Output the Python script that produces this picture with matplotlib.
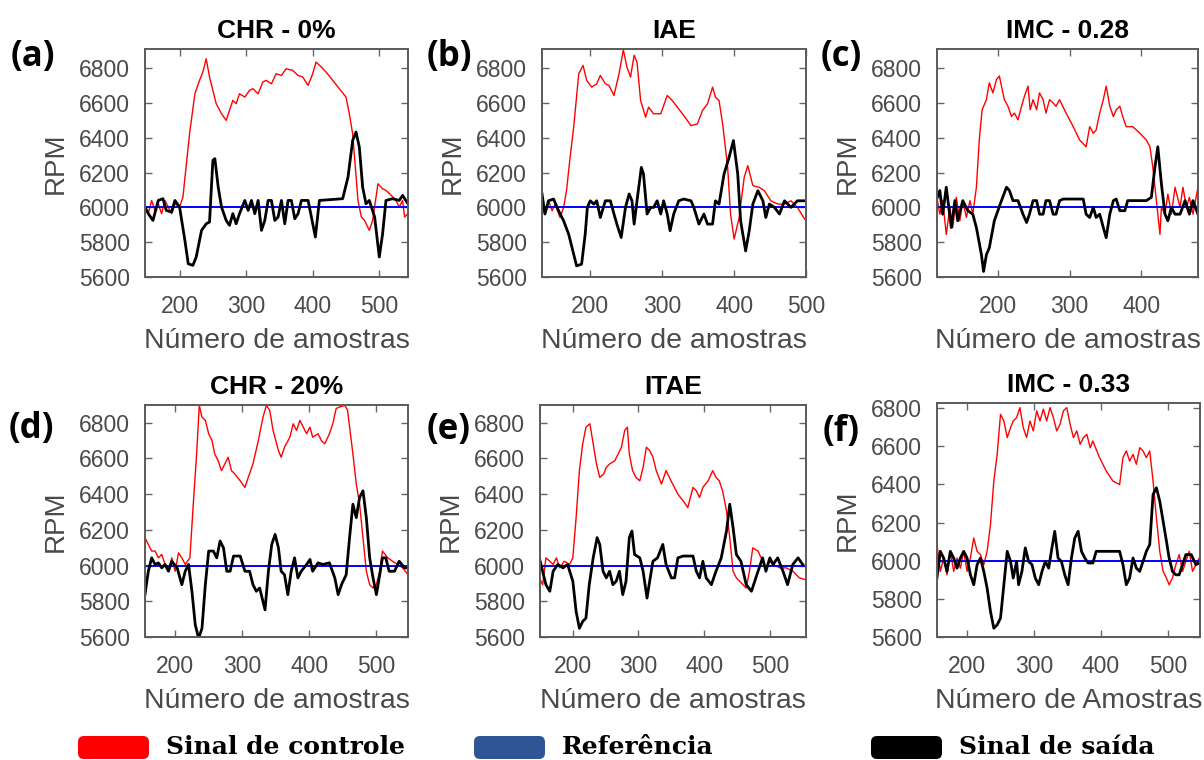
import matplotlib
matplotlib.use("Agg")
import matplotlib.pyplot as plt
from matplotlib.patches import FancyBboxPatch

REFERENCE = 6000

# (a) CHR - 0%
a_ctrl_x = [148, 153, 158, 163, 168, 173, 178, 183, 188, 193, 200, 205, 215, 223, 230, 235, 240, 245, 255, 263,
            270, 275, 280, 285, 290, 298, 305, 310, 318, 325, 330, 338, 345, 353, 360, 370, 378, 385, 393, 400,
            405, 413, 420, 430, 440, 450, 455, 460, 464, 468, 473, 478, 485, 490, 498, 505, 510, 518, 525, 530,
            535, 538, 543]
a_ctrl_y = [6002, 5964, 6040, 5983, 6021, 5964, 6040, 6002, 5964, 6021, 6002, 6059, 6423, 6653, 6730, 6778, 6854, 6749, 6596, 6538,
            6500, 6557, 6615, 6596, 6653, 6634, 6672, 6682, 6653, 6720, 6730, 6710, 6768, 6758, 6797, 6787, 6758, 6749, 6701, 6768,
            6835, 6806, 6778, 6730, 6682, 6634, 6538, 6423, 6232, 6040, 5945, 5925, 5868, 5925, 6136, 6107, 6098, 6069, 6040, 6002,
            6040, 5945, 5964]
a_out_x = [148, 153, 160, 168, 175, 180, 188, 193, 200, 208, 213, 220, 225, 233, 240, 245, 250, 253, 258, 263,
           270, 275, 280, 285, 290, 298, 303, 308, 313, 318, 323, 328, 333, 338, 343, 348, 353, 358, 363, 368,
           373, 378, 383, 393, 398, 404, 410, 445, 453, 460, 465, 470, 475, 480, 485, 493, 500, 505, 510, 520,
           530, 535, 543]
a_out_y = [6002, 5964, 5925, 6040, 6050, 5983, 5973, 6040, 6002, 5810, 5676, 5667, 5715, 5868, 5906, 5916, 6270, 6280, 6117, 6002,
           5925, 5897, 5964, 5906, 5964, 6040, 5983, 6040, 5964, 6040, 5868, 5925, 6040, 6040, 5925, 5945, 6040, 5906, 6040, 6040,
           5935, 5964, 6040, 6040, 5945, 5830, 6040, 6050, 6174, 6385, 6433, 6347, 6117, 6021, 6040, 5945, 5715, 5849, 6040, 6050,
           6040, 6069, 6021]

# (b) IAE
b_ctrl_x = [133, 137, 142, 147, 151, 158, 163, 167, 172, 177, 184, 190, 195, 202, 209, 214, 221, 226, 233, 240,
            246, 251, 256, 261, 265, 270, 277, 281, 288, 298, 307, 314, 321, 330, 340, 349, 356, 363, 370, 374,
            379, 384, 391, 395, 400, 407, 414, 419, 426, 435, 442, 451, 461, 470, 479, 488, 498]
b_ctrl_y = [6019, 5962, 6038, 5981, 6019, 5942, 6000, 6096, 6288, 6461, 6768, 6816, 6730, 6691, 6710, 6758, 6710, 6701, 6643, 6768,
            6906, 6806, 6749, 6874, 6835, 6614, 6518, 6576, 6538, 6538, 6643, 6614, 6576, 6528, 6470, 6480, 6557, 6595, 6691, 6634,
            6614, 6480, 6230, 5962, 5818, 5942, 6173, 6240, 6125, 6115, 6096, 6038, 6019, 6019, 6038, 6000, 5933]
b_out_x = [133, 137, 142, 149, 156, 163, 170, 177, 181, 188, 193, 196, 200, 205, 209, 214, 221, 228, 233, 237,
           243, 249, 254, 258, 261, 265, 271, 274, 279, 284, 288, 293, 298, 302, 307, 311, 316, 323, 330, 340,
           344, 351, 358, 363, 370, 374, 379, 386, 393, 399, 405, 409, 416, 421, 426, 433, 440, 444, 449, 456,
           463, 470, 479, 488, 498]
b_out_y = [6077, 5962, 6038, 6048, 5981, 5923, 5846, 5731, 5664, 5674, 5846, 6000, 6038, 6019, 6038, 5942, 6038, 6038, 5962, 5904,
           5827, 6000, 6077, 6038, 5904, 6038, 6230, 6192, 5962, 6000, 6000, 6038, 5962, 6038, 5962, 5866, 5962, 6038, 6048, 6038,
           6000, 5904, 5962, 5904, 5904, 6038, 6019, 6192, 6288, 6384, 6192, 5923, 5750, 5866, 6019, 6096, 6038, 5942, 6019, 6000,
           5962, 6038, 6000, 6038, 6038]

# (c) IMC - 0.28
c_ctrl_x = [114, 119, 123, 128, 133, 137, 142, 147, 151, 156, 161, 165, 170, 174, 178, 184, 188, 193, 198, 202,
            206, 209, 214, 219, 223, 228, 233, 237, 242, 245, 249, 254, 258, 263, 267, 272, 277, 281, 286, 295,
            305, 314, 323, 328, 333, 337, 342, 347, 351, 356, 361, 365, 370, 374, 379, 388, 398, 407, 412, 416,
            421, 426, 428, 433, 437, 442, 447, 454, 458, 463, 467, 472, 479]
c_ctrl_y = [6077, 5961, 6039, 5845, 6000, 5884, 6058, 5923, 6039, 5942, 6039, 5961, 6116, 6387, 6561, 6619, 6716, 6658, 6735, 6755,
            6677, 6619, 6581, 6522, 6542, 6503, 6581, 6639, 6697, 6561, 6619, 6561, 6658, 6619, 6542, 6619, 6600, 6581, 6619, 6542,
            6464, 6387, 6348, 6464, 6426, 6445, 6542, 6619, 6697, 6581, 6522, 6561, 6581, 6522, 6464, 6464, 6426, 6387, 6348, 6232,
            6039, 5845, 6000, 5961, 6077, 5961, 6116, 6000, 6116, 6000, 6058, 5961, 6116]
c_out_x = [114, 119, 123, 128, 135, 140, 144, 151, 158, 165, 170, 177, 180, 184, 188, 195, 200, 205, 212, 216,
           221, 228, 235, 240, 244, 249, 254, 258, 263, 267, 272, 277, 281, 286, 291, 319, 323, 328, 333, 337,
           342, 347, 351, 356, 361, 365, 370, 377, 381, 407, 414, 419, 423, 428, 433, 437, 442, 447, 454, 461,
           467, 472, 479]
c_out_y = [6039, 6097, 5961, 6116, 5884, 6039, 5923, 6039, 5981, 5961, 5884, 5729, 5632, 5729, 5768, 5923, 5981, 6039, 6116, 6097,
           6039, 6039, 5961, 5913, 5961, 6039, 6039, 5961, 5961, 6039, 6039, 5961, 5961, 6039, 6048, 6048, 5961, 5942, 6000, 5942,
           5961, 5884, 5826, 5961, 6039, 6048, 5981, 5981, 6039, 6039, 6058, 6232, 6348, 6135, 5961, 5923, 6000, 5961, 5961, 6039,
           5961, 6039, 5961]

# (d) CHR - 20%
d_ctrl_x = [155, 160, 165, 170, 175, 180, 185, 190, 195, 200, 205, 210, 215, 222, 227, 232, 236, 240, 245, 250,
            255, 259, 264, 269, 274, 279, 284, 289, 297, 304, 309, 316, 324, 331, 336, 341, 346, 354, 358, 363,
            371, 376, 381, 386, 391, 396, 401, 405, 413, 418, 423, 430, 435, 440, 445, 453, 457, 465, 470, 475,
            480, 485, 490, 495, 500, 505, 509, 517, 524, 532, 539, 547]
d_ctrl_y = [6156, 6118, 6081, 6081, 6043, 6062, 6006, 5968, 6043, 5968, 6071, 6043, 6006, 6043, 6343, 6624, 6896, 6830, 6812, 6737,
            6699, 6624, 6587, 6531, 6568, 6606, 6531, 6512, 6474, 6437, 6493, 6568, 6699, 6830, 6896, 6868, 6756, 6643, 6606, 6662,
            6718, 6793, 6756, 6812, 6774, 6737, 6774, 6718, 6737, 6699, 6681, 6737, 6793, 6878, 6887, 6896, 6868, 6624, 6456, 6343,
            6156, 5968, 5893, 5874, 5893, 5968, 6081, 6043, 6024, 6006, 5987, 5949]
d_out_x = [155, 160, 165, 170, 175, 180, 185, 190, 195, 203, 210, 215, 220, 225, 230, 235, 240, 245, 250, 257,
           262, 267, 272, 277, 282, 287, 297, 304, 311, 316, 321, 326, 334, 339, 344, 349, 354, 358, 363, 368,
           373, 378, 383, 388, 396, 401, 405, 413, 420, 430, 438, 443, 448, 455, 460, 465, 470, 475, 480, 485,
           490, 495, 500, 505, 509, 514, 519, 527, 534, 542, 547]
d_out_y = [5837, 5968, 6043, 6006, 6015, 5987, 6006, 5968, 6024, 5987, 5893, 5968, 6006, 5856, 5668, 5593, 5649, 5893, 6081, 6081,
           6043, 6137, 6099, 5968, 5968, 6053, 6053, 5968, 5968, 5893, 5856, 5874, 5752, 5968, 6118, 6174, 6099, 5968, 5949, 5837,
           5968, 6043, 5931, 5968, 6006, 6034, 5968, 6015, 6006, 6015, 5931, 5837, 5893, 5949, 6156, 6343, 6268, 6381, 6418, 6268,
           6043, 5931, 5837, 5949, 6043, 6043, 5968, 5968, 6024, 5987, 5987]

# (e) ITAE
e_ctrl_x = [149, 154, 159, 165, 170, 175, 180, 187, 195, 200, 205, 210, 215, 220, 226, 231, 236, 241, 247, 251,
            256, 264, 269, 274, 279, 283, 286, 291, 296, 302, 307, 312, 317, 322, 327, 335, 342, 347, 352, 360,
            368, 375, 383, 388, 393, 398, 406, 413, 418, 423, 428, 434, 439, 444, 449, 459, 464, 469, 474, 482,
            489, 494, 500, 505, 515, 525, 535, 545, 554]
e_ctrl_y = [5931, 5893, 6043, 6024, 6006, 6043, 5987, 6024, 6006, 6043, 6268, 6531, 6681, 6774, 6793, 6681, 6568, 6493, 6512, 6549,
            6568, 6587, 6624, 6662, 6756, 6774, 6624, 6531, 6493, 6474, 6549, 6662, 6643, 6606, 6531, 6456, 6531, 6493, 6456, 6399,
            6362, 6324, 6437, 6418, 6381, 6437, 6474, 6531, 6493, 6474, 6418, 6306, 6156, 5968, 5931, 5893, 5874, 5968, 6099, 6081,
            6024, 5987, 6024, 6006, 5987, 5987, 5968, 5931, 5921]
e_out_x = [149, 154, 159, 165, 170, 177, 185, 192, 200, 205, 210, 215, 220, 225, 231, 237, 241, 246, 251, 256,
           261, 266, 271, 276, 281, 286, 290, 294, 302, 307, 313, 317, 322, 329, 337, 342, 350, 355, 360, 368,
           383, 388, 393, 398, 403, 411, 418, 426, 434, 439, 444, 449, 456, 464, 472, 477, 482, 489, 494, 500,
           505, 512, 520, 527, 535, 543, 550]
e_out_y = [6043, 5968, 5893, 5856, 5968, 6006, 5987, 6006, 5912, 5743, 5649, 5687, 5706, 5893, 6043, 6156, 6118, 5968, 5931, 5968,
           5893, 5912, 5968, 5837, 5912, 6156, 6193, 6062, 6043, 5968, 5818, 5912, 6024, 6043, 6118, 6006, 5931, 5931, 6043, 6053,
           6053, 5968, 5931, 6024, 5931, 5893, 5968, 6043, 6193, 6343, 6212, 6062, 6024, 5893, 5856, 5912, 5968, 6043, 5968, 6043,
           6006, 6043, 5968, 5893, 6006, 6043, 6006]

# (f) IMC - 0.33
f_ctrl_x = [155, 160, 165, 170, 175, 180, 185, 190, 195, 200, 205, 210, 215, 220, 225, 230, 235, 240, 245, 250,
            255, 260, 265, 269, 274, 279, 284, 289, 294, 299, 304, 309, 314, 319, 324, 329, 334, 339, 344, 349,
            354, 359, 364, 369, 374, 379, 384, 388, 398, 408, 418, 428, 433, 438, 443, 448, 453, 458, 463, 468,
            473, 478, 483, 488, 493, 498, 502, 507, 512, 517, 522, 527, 532, 537, 542, 547]
f_ctrl_y = [6084, 5944, 6014, 5926, 6049, 5944, 6014, 5961, 6049, 5944, 6014, 6119, 6049, 6032, 5979, 6049, 6189, 6417, 6557, 6767,
            6732, 6645, 6697, 6732, 6750, 6802, 6697, 6645, 6732, 6680, 6785, 6732, 6794, 6732, 6802, 6750, 6680, 6715, 6785, 6802,
            6715, 6645, 6680, 6610, 6645, 6662, 6592, 6627, 6540, 6470, 6417, 6399, 6540, 6575, 6522, 6557, 6505, 6592, 6575, 6540,
            6575, 6417, 6224, 6049, 5944, 5909, 5874, 5909, 5979, 6032, 5944, 5996, 6049, 5944, 5979, 6014]
f_out_x = [155, 160, 165, 170, 175, 180, 185, 190, 195, 200, 205, 210, 215, 220, 225, 230, 235, 240, 245, 250,
           255, 260, 265, 269, 274, 277, 282, 287, 292, 297, 302, 307, 312, 317, 322, 326, 331, 336, 341, 346,
           351, 356, 361, 366, 371, 376, 381, 388, 393, 428, 433, 438, 443, 448, 453, 458, 463, 468, 473, 478,
           483, 488, 493, 498, 502, 507, 512, 517, 522, 527, 535, 542, 547]
f_out_y = [5909, 6049, 6014, 5944, 6049, 6014, 5961, 6014, 6049, 6014, 5926, 5874, 5979, 6014, 5944, 5856, 5734, 5646, 5664, 5699,
           5874, 6049, 5996, 5909, 5996, 5874, 5944, 6067, 5996, 5979, 5909, 5874, 5944, 5996, 5961, 6049, 6154, 6014, 5996, 5926,
           5874, 6014, 6119, 6154, 6049, 6014, 5988, 5988, 6049, 6049, 5979, 5874, 5909, 6014, 5961, 5944, 5996, 6049, 6084, 6347,
           6382, 6312, 6207, 6102, 6014, 5944, 5926, 5926, 5979, 6032, 6032, 5979, 5988]

titles = ["CHR - 0%", "IAE", "IMC - 0.28", "CHR - 20%", "ITAE", "IMC - 0.33"]
letters = ["(a)", "(b)", "(c)", "(d)", "(e)", "(f)"]
xlabels = ["Número de amostras"] * 5 + ["Número de Amostras"]
xlims = [(148, 543), (133, 500), (115, 479), (155, 547), (150, 555), (155, 548)]
ylims = [(5600, 6910), (5600, 6910), (5600, 6910), (5600, 6898), (5600, 6898), (5600, 6826)]
xticks = [200, 300, 400, 500]
yticks = [5600, 5800, 6000, 6200, 6400, 6600, 6800]
legend_labels = ["Sinal de controle", "Referência", "Sinal de saída"]

series = [
    (a_ctrl_x, a_ctrl_y, a_out_x, a_out_y),
    (b_ctrl_x, b_ctrl_y, b_out_x, b_out_y),
    (c_ctrl_x, c_ctrl_y, c_out_x, c_out_y),
    (d_ctrl_x, d_ctrl_y, d_out_x, d_out_y),
    (e_ctrl_x, e_ctrl_y, e_out_x, e_out_y),
    (f_ctrl_x, f_ctrl_y, f_out_x, f_out_y),
]

# axes boxes in figure fractions (left, bottom, width, height)
rects = [
    [0.1204, 0.6355, 0.2184, 0.3000],
    [0.4502, 0.6355, 0.2193, 0.3000],
    [0.7782, 0.6355, 0.2168, 0.3000],
    [0.1204, 0.1618, 0.2184, 0.3053],
    [0.4485, 0.1618, 0.2209, 0.3053],
    [0.7782, 0.1618, 0.2184, 0.3079],
]
letter_pos = [(0.027, 0.925), (0.373, 0.925), (0.699, 0.925),
              (0.026, 0.436), (0.373, 0.434), (0.699, 0.432)]

RED = "#ff0000"
BLUE = "#0000ff"
GRAY = "#4a4a4a"

plt.rcParams["font.family"] = ["Liberation Sans", "DejaVu Sans"]

fig = plt.figure(figsize=(12.04, 7.6), dpi=100)

for i, (cx, cy, ox, oy) in enumerate(series):
    ax = fig.add_axes(rects[i])
    ax.plot(cx, cy, color=RED, lw=1.0)
    ax.axhline(REFERENCE, color=BLUE, lw=1.4)
    ax.plot(ox, oy, color="black", lw=2.0)
    ax.set_xlim(*xlims[i])
    ax.set_ylim(*ylims[i])
    ax.set_xticks([t for t in xticks if xlims[i][0] <= t <= xlims[i][1]])
    ax.set_yticks(yticks)
    ax.tick_params(direction="in", top=True, right=True, length=5, width=1,
                   color="#666666", labelcolor=GRAY, labelsize=16.5)
    ax.tick_params(axis="x", pad=13)
    ax.tick_params(axis="y", pad=11)
    for sp in ax.spines.values():
        sp.set_color("#5a5a5a")
        sp.set_linewidth(1.4)
    ax.set_ylabel("RPM", fontsize=20, color=GRAY, labelpad=7)
    ax.set_xlabel(xlabels[i], fontsize=20.5, color=GRAY, labelpad=7)
    ax.set_title(titles[i], fontsize=19, fontweight="bold", color="black", pad=8)
    fig.text(letter_pos[i][0], letter_pos[i][1], letters[i], fontsize=25,
             fontweight="bold", family=["Open Sans", "DejaVu Sans"],
             ha="center", va="center")

# legend row along the bottom (inches from lower-left corner)
legend_colors = [RED, "#2f5597", "black"]
box_left = [0.78, 4.74, 8.71]
text_left = [1.66, 5.62, 9.59]
for col, bx, tx, lab in zip(legend_colors, box_left, text_left, legend_labels):
    box = FancyBboxPatch((bx, 0.01), 0.71, 0.23,
                         boxstyle="round,pad=0,rounding_size=0.06",
                         facecolor=col, edgecolor="none",
                         transform=fig.dpi_scale_trans)
    fig.patches.append(box)
    fig.text(tx, 0.125, lab, transform=fig.dpi_scale_trans,
             family=["DejaVu Serif"], fontweight="bold", fontsize=18,
             ha="left", va="center")

fig.savefig("out.png", dpi=100)
